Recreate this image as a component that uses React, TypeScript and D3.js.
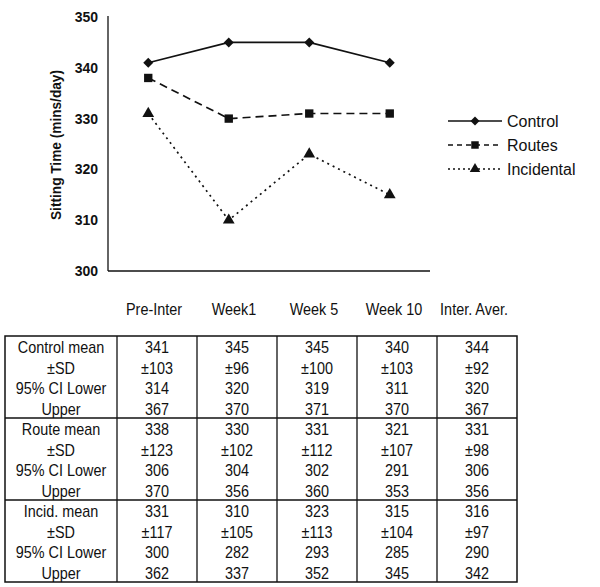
import React from "react";
import * as d3 from "d3";

const chartCategories = ["Pre-Inter", "Week1", "Week 5", "Week 10"];
const tableColumns = ["Pre-Inter", "Week1", "Week 5", "Week 10", "Inter. Aver."];
const yTicks = [300, 310, 320, 330, 340, 350];

const controlValues = [341, 345, 345, 341];
const routesValues = [338, 330, 331, 331];
const incidentalValues = [331, 310, 323, 315];

const seriesNames = ["Control", "Routes", "Incidental"];

const rowLabels = ["mean", "±SD", "95% CI Lower", "Upper"];
const groupNames = ["Control mean", "Route mean", "Incid. mean"];

const controlMean = ["341", "345", "345", "340", "344"];
const controlSD = ["±103", "±96", "±100", "±103", "±92"];
const controlLower = ["314", "320", "319", "311", "320"];
const controlUpper = ["367", "370", "371", "370", "367"];

const routeMean = ["338", "330", "331", "321", "331"];
const routeSD = ["±123", "±102", "±112", "±107", "±98"];
const routeLower = ["306", "304", "302", "291", "306"];
const routeUpper = ["370", "356", "360", "353", "356"];

const incidMean = ["331", "310", "323", "315", "316"];
const incidSD = ["±117", "±105", "±113", "±104", "±97"];
const incidLower = ["300", "282", "293", "285", "290"];
const incidUpper = ["362", "337", "352", "345", "342"];

const FONT = "'Liberation Sans', Arial, sans-serif";
const INK = "#111";

export default function App() {
  const W = 600, H = 587;
  const plotL = 108, plotR = 430, plotT = 17, plotB = 271;

  const x = d3.scaleBand<string>().domain(chartCategories).range([plotL, plotR]);
  const cx = (c: string) => (x(c) as number) + x.bandwidth() / 2;
  const y = d3.scaleLinear().domain([300, 350]).range([plotB, plotT]);

  const series = [
    { name: seriesNames[0], values: controlValues, dash: "none", symbol: d3.symbolSquare, size: 50, rot: 45 },
    { name: seriesNames[1], values: routesValues, dash: "8,5", symbol: d3.symbolSquare, size: 70, rot: 0 },
    { name: seriesNames[2], values: incidentalValues, dash: "2,4", symbol: d3.symbolTriangle, size: 60, rot: 0 },
  ];
  const legendDash = ["none", "5,4", "2,3"];

  const line = d3
    .line<number>()
    .x((_, i) => cx(chartCategories[i]))
    .y((v) => y(v));

  // table
  const tLeft = 5, tLabelR = 117, tRight = 517, tTop = 336, rowH = 20.5;
  const tx = d3.scaleBand<string>().domain(tableColumns).range([tLabelR, tRight]);
  const tcx = (c: string) => (tx(c) as number) + tx.bandwidth() / 2;
  const groups = [
    [controlMean, controlSD, controlLower, controlUpper],
    [routeMean, routeSD, routeLower, routeUpper],
    [incidMean, incidSD, incidLower, incidUpper],
  ];
  const nRows = groups.length * rowLabels.length;
  const ty = d3.scaleLinear().domain([0, nRows]).range([tTop, tTop + nRows * rowH]);
  const tBottom = ty(nRows);

  const condensed = (xx: number, yy: number) => `translate(${xx},${yy}) scale(0.9,1)`;

  return (
    <svg
      width={W}
      height={H}
      viewBox={`0 0 ${W} ${H}`}
      style={{ position: "absolute", left: 0, top: 0, background: "#fff" }}
    >
      <rect x={0} y={0} width={W} height={H} fill="#fff" />
      {/* axes */}
      <line x1={plotL} x2={plotL} y1={plotT - 1} y2={plotB} stroke={INK} strokeWidth={1.3} />
      <line x1={plotL} x2={plotR} y1={plotB} y2={plotB} stroke={INK} strokeWidth={1.5} />
      {yTicks.map((t) => (
        <text
          key={t}
          x={98}
          y={y(t)}
          textAnchor="end"
          dominantBaseline="central"
          fontFamily={FONT}
          fontSize={14}
          fontWeight="bold"
          fill={INK}
        >
          {t}
        </text>
      ))}
      <text
        transform={`translate(56,${(plotT + plotB) / 2 + 1}) rotate(-90)`}
        textAnchor="middle"
        dominantBaseline="central"
        fontFamily={FONT}
        fontSize={14}
        fontWeight="bold"
        fill={INK}
        textLength={150}
        lengthAdjust="spacingAndGlyphs"
      >
        Sitting Time (mins/day)
      </text>

      {/* series */}
      {series.map((s) => (
        <g key={s.name}>
          <path
            d={line(s.values) as string}
            fill="none"
            stroke={INK}
            strokeWidth={1.7}
            strokeDasharray={s.dash}
          />
          {s.values.map((v, i) => (
            <path
              key={i}
              d={d3.symbol().type(s.symbol).size(s.size)() as string}
              transform={`translate(${cx(chartCategories[i])},${y(v)}) rotate(${s.rot})`}
              fill={INK}
            />
          ))}
        </g>
      ))}

      {/* legend */}
      {series.map((s, i) => {
        const ly = 121 + i * 24;
        return (
          <g key={s.name}>
            <line x1={448} x2={502} y1={ly} y2={ly} stroke={INK} strokeWidth={1.5} strokeDasharray={legendDash[i]} />
            <path
              d={d3.symbol().type(s.symbol).size(s.size * 0.8)() as string}
              transform={`translate(475,${ly}) rotate(${s.rot})`}
              fill={INK}
            />
            <text
              x={507}
              y={ly}
              dominantBaseline="central"
              fontFamily={FONT}
              fontSize={16}
              fill={INK}
            >
              {s.name}
            </text>
          </g>
        );
      })}

      {/* table header */}
      {tableColumns.map((c) => (
        <text
          key={c}
          transform={condensed(tcx(c) - 3, 309)}
          textAnchor="middle"
          dominantBaseline="central"
          fontFamily={FONT}
          fontSize={16}
          fill={INK}
        >
          {c}
        </text>
      ))}

      {/* table body */}
      {groups.map((g, gi) =>
        g.map((row, ri) => {
          const r = gi * rowLabels.length + ri;
          const rcy = (ty(r) + ty(r + 1)) / 2 + 1;
          const label = ri === 0 ? groupNames[gi] : rowLabels[ri];
          return (
            <g key={`${gi}-${ri}`}>
              <text
                transform={condensed((tLeft + tLabelR) / 2, rcy)}
                textAnchor="middle"
                dominantBaseline="central"
                fontFamily={FONT}
                fontSize={16}
                fill={INK}
              >
                {label}
              </text>
              {row.map((v, ci) => (
                <text
                  key={ci}
                  transform={condensed(tcx(tableColumns[ci]), rcy)}
                  textAnchor="middle"
                  dominantBaseline="central"
                  fontFamily={FONT}
                  fontSize={16}
                  fill={INK}
                >
                  {v}
                </text>
              ))}
            </g>
          );
        })
      )}
      {/* table lines */}
      <rect
        x={tLeft}
        y={tTop}
        width={tRight - tLeft}
        height={tBottom - tTop}
        fill="none"
        stroke={INK}
        strokeWidth={1.5}
      />
      {tableColumns.map((c) => (
        <line key={c} x1={tx(c) as number} x2={tx(c) as number} y1={tTop} y2={tBottom} stroke={INK} strokeWidth={1.3} />
      ))}
      {[1, 2].map((gi) => {
        const yy = ty(gi * rowLabels.length);
        return <line key={gi} x1={tLeft} x2={tRight} y1={yy} y2={yy} stroke={INK} strokeWidth={1.3} />;
      })}
    </svg>
  );
}
